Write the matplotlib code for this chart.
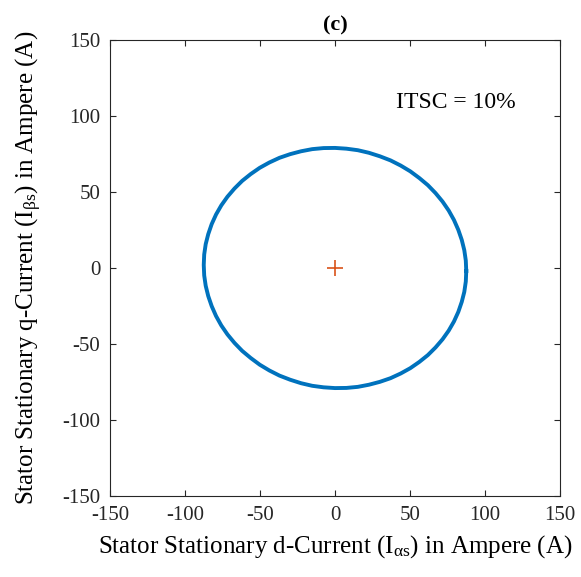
import matplotlib
matplotlib.use("Agg")
import matplotlib.pyplot as plt

plt.rcParams["font.family"] = ["Liberation Serif", "DejaVu Serif"]
plt.rcParams["mathtext.fontset"] = "custom"
plt.rcParams["mathtext.rm"] = "Liberation Serif"
plt.rcParams["mathtext.default"] = "regular"
plt.rcParams["axes.unicode_minus"] = False

# stator current trajectory (A)
i_alpha = [87.5, 87.2, 86.2, 84.5, 82.2, 79.3, 75.8, 71.7, 67.0, 61.9,
           56.2, 50.2, 43.8, 37.0, 29.9, 22.6, 15.2, 7.6, 0.0,
           -7.6, -15.2, -22.6, -29.9, -37.0, -43.8, -50.2, -56.2, -61.9,
           -67.0, -71.7, -75.8, -79.3, -82.2, -84.5, -86.2, -87.2, -87.5,
           -87.2, -86.2, -84.5, -82.2, -79.3, -75.8, -71.7, -67.0, -61.9,
           -56.2, -50.2, -43.8, -37.0, -29.9, -22.6, -15.2, -7.6, 0.0,
           7.6, 15.2, 22.6, 29.9, 37.0, 43.8, 50.2, 56.2, 61.9,
           67.0, 71.7, 75.8, 79.3, 82.2, 84.5, 86.2, 87.2, 87.5]
i_beta = [-2.0, 4.9, 11.7, 18.5, 25.1, 31.6, 37.8, 43.7, 49.3, 54.5,
          59.2, 63.6, 67.4, 70.8, 73.5, 75.8, 77.5, 78.5, 79.0,
          78.9, 78.2, 76.8, 74.9, 72.5, 69.4, 65.9, 61.8, 57.3,
          52.3, 46.9, 41.2, 35.2, 28.9, 22.3, 15.7, 8.9, 2.0,
          -4.9, -11.7, -18.5, -25.1, -31.6, -37.8, -43.7, -49.3, -54.5,
          -59.2, -63.6, -67.4, -70.8, -73.5, -75.8, -77.5, -78.5, -79.0,
          -78.9, -78.2, -76.8, -74.9, -72.5, -69.4, -65.9, -61.8, -57.3,
          -52.3, -46.9, -41.2, -35.2, -28.9, -22.3, -15.7, -8.9, -2.0]
center = (0, 0)
ticks = [-150, -100, -50, 0, 50, 100, 150]

fig = plt.figure(figsize=(5.81, 5.77), dpi=100)
ax = fig.add_axes([110 / 581, 81 / 577, 450 / 581, 456 / 577])

ax.plot(i_alpha, i_beta, color="#0072BD", lw=2.8, solid_joinstyle="round")
ax.plot(*center, marker="+", color="#D95319", ms=11, mew=1.2)

ax.text(41, 109, "ITSC = 10%", fontsize=17, va="center")

ax.set_xlim(-150, 150)
ax.set_ylim(-150, 150)
ax.set_xticks(ticks)
ax.set_yticks(ticks)
ax.tick_params(direction="in", length=4, width=0.8, top=True, right=True,
               labelsize=15, colors="#262626", pad=7)
for s in ax.spines.values():
    s.set_color("#262626")
    s.set_linewidth(0.8)

ax.set_title("(c)", fontsize=16, fontweight="bold", pad=7)
ax.set_xlabel(r"Stator Stationary d-Current (I$_{\alpha s}$) in Ampere (A)",
              fontsize=18, labelpad=6)
ax.set_ylabel(r"Stator Stationary q-Current (I$_{\beta s}$) in Ampere (A)",
              fontsize=18, labelpad=13)

fig.savefig("out.png", dpi=100)
